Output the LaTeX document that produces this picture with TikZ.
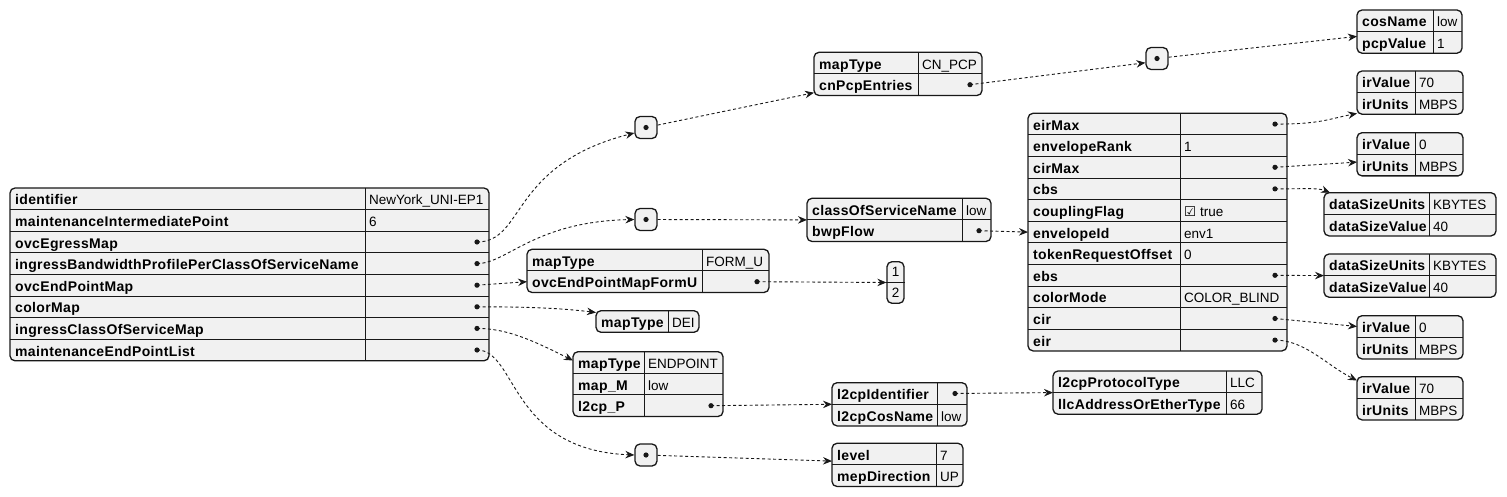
\documentclass[tikz,border=0pt]{standalone}
\usepackage{fontspec}
\setmainfont{Liberation Sans}
\newfontfamily\keyfont[LetterSpace=2.5]{Liberation Sans}
\newfontfamily\checkfont{DejaVu Sans}
\usetikzlibrary{arrows.meta}

\definecolor{boxfill}{HTML}{F1F1F1}
\definecolor{boxline}{HTML}{181818}
\def\rowh{21.6}
\def\starval{*}

% one json object: name, left, top, value column, right, key/value rows
\newcommand{\jsontable}[6]{%
  \foreach [count=\i] \k/\v in {#6} {\xdef\nrows{\i}}
  \draw[tablebox] (#2,#3) rectangle (#5,{#3+\nrows*\rowh});
  \draw[tablegrid] (#4,#3) -- (#4,{#3+\nrows*\rowh});
  \foreach [count=\i] \k/\v in {#6} {
    \pgfmathsetmacro\ymid{#3+(\i-0.5)*\rowh}
    \ifnum\i>1 \draw[tablegrid] (#2,{#3+(\i-1)*\rowh}) -- (#5,{#3+(\i-1)*\rowh}); \fi
    \coordinate (#1-\i) at (#2,\ymid);
    \coordinate (#1-\i-dot) at ({#5-12},\ymid);
    \node[keytext] at ({#2+5},{\ymid+6}) {\k};
    \ifx\v\starval \fill[boxline] (#1-\i-dot) circle (2.6);
    \else \node[valtext] at ({#4+4},{\ymid+6}) {\v}; \fi
  }
  \coordinate (#1-nw) at (#2,#3);
}

\begin{document}
\begin{tikzpicture}[x=1pt, y=-1pt,
  tablebox/.style={draw=boxline, fill=boxfill, line width=1.3pt, rounded corners=5pt},
  tablegrid/.style={draw=boxline, line width=0.9pt},
  keytext/.style={anchor=base west, inner sep=0, font=\keyfont\bfseries\fontsize{14}{16}\selectfont},
  valtext/.style={anchor=base west, inner sep=0, font=\fontsize{13.5}{16}\selectfont},
  arraybox/.style={draw=boxline, fill=boxfill, line width=1.3pt, rounded corners=5pt,
    minimum size=22pt, inner sep=0},
  link/.style={draw=boxline, line width=0.9pt, dash pattern=on 3pt off 2.5pt,
    -{Stealth[length=9pt, width=7.5pt, inset=3pt]}}]
  \useasboundingbox (0,0) rectangle (1507,497);

  % root object
  \jsontable{main}{10}{188}{365}{489}{identifier/NewYork\_UNI-EP1,
    maintenanceIntermediatePoint/6, ovcEgressMap/*,
    ingressBandwidthProfilePerClassOfServiceName/*, ovcEndPointMap/*,
    colorMap/*, ingressClassOfServiceMap/*, maintenanceEndPointList/*}

  % arrays
  \node[arraybox] (egressarr) at (646,127.5) {};
  \node[arraybox] (bwparr) at (646,219.5) {};
  \node[arraybox] (meparr) at (646,455) {};
  \node[arraybox] (pcparr) at (1157,58.5) {};
  \foreach \a in {egressarr, bwparr, meparr, pcparr}
    \fill[boxline] (\a) circle (2.6);
  \node[arraybox, minimum width=17pt, minimum height=41.6pt] (formuarr) at (895.5,282.5) {};
  \draw[tablegrid] (formuarr.west) -- (formuarr.east);
  \node[valtext, anchor=center] at ([yshift=10.4pt]formuarr) {1};
  \node[valtext, anchor=center] at ([yshift=-10.4pt]formuarr) {2};

  % objects
  \jsontable{egress}{814}{52.3}{918}{982}{mapType/CN\_PCP, cnPcpEntries/*}
  \jsontable{bwp}{807}{198.3}{962}{991}{classOfServiceName/low, bwpFlow/*}
  \jsontable{formu}{527}{249.3}{702}{769}{mapType/FORM\_U, ovcEndPointMapFormU/*}
  \jsontable{color}{596}{310.7}{668}{699}{mapType/DEI}
  \jsontable{cosmap}{573}{351.7}{644}{723}{mapType/ENDPOINT, map\_M/low, l2cp\_P/*}
  \jsontable{l2cp}{832}{382.7}{937}{967}{l2cpIdentifier/*, l2cpCosName/low}
  \jsontable{mep}{832}{443.3}{936}{963}{level/7, mepDirection/UP}
  \jsontable{pcp}{1357}{10}{1433}{1462}{cosName/low, pcpValue/1}
  \jsontable{envelope}{1028}{113.3}{1180}{1287}{eirMax/*, envelopeRank/1, cirMax/*,
    cbs/*, couplingFlag/{\checkfont ☑}~true, envelopeId/env1, tokenRequestOffset/0,
    ebs/*, colorMode/COLOR\_BLIND, cir/*, eir/*}
  \jsontable{eirmax}{1357}{71}{1415}{1463}{irValue/70, irUnits/MBPS}
  \jsontable{cirmax}{1357}{132.7}{1415}{1463}{irValue/0, irUnits/MBPS}
  \jsontable{cbs}{1324}{192.7}{1429}{1496}{dataSizeUnits/KBYTES, dataSizeValue/40}
  \jsontable{ebs}{1324}{254}{1429}{1496}{dataSizeUnits/KBYTES, dataSizeValue/40}
  \jsontable{cir}{1357}{315.7}{1415}{1463}{irValue/0, irUnits/MBPS}
  \jsontable{eir}{1357}{376.7}{1415}{1463}{irValue/70, irUnits/MBPS}
  \jsontable{proto}{1053}{371}{1226}{1262}{l2cpProtocolType/LLC, llcAddressOrEtherType/66}

  % links from the root
  \draw[link] (main-3-dot) .. controls +(48,0) and +(-125,32) .. (egressarr.205);
  \draw[link] (main-4-dot) .. controls +(30,0) and +(-100,2) .. (bwparr.west);
  \draw[link] (main-5-dot) -- (formu-2);
  \draw[link] (main-6-dot) .. controls +(40,0) and +(-40,-5) .. ([yshift=9pt]color-1);
  \draw[link] (main-7-dot) .. controls +(30,0) and +(-40,-20) .. ([yshift=2pt]cosmap-1);
  \draw[link] (main-8-dot) .. controls +(40,0) and +(-125,-5) .. (meparr.west);

  % links further on
  \draw[link] (egressarr) -- ([yshift=-8pt]egress-2);
  \draw[link] (bwparr) -- ([yshift=-10.8pt]bwp-1);
  \draw[link] (formu-2-dot) -- (formuarr.west);
  \draw[link] (cosmap-3-dot) -- ([yshift=-10.8pt]l2cp-1);
  \draw[link] (meparr) -- ([yshift=-7pt]mep-1);
  \draw[link] (egress-2-dot) -- (pcparr.200);
  \draw[link] (pcparr) -- ([yshift=6pt]pcp-2);
  \draw[link] (bwp-2-dot) -- (envelope-6);
  \draw[link] (l2cp-1-dot) -- ([yshift=-10.8pt]proto-1);
  \draw[link] (envelope-1-dot) .. controls +(45,0) and +(-30,6) .. ([yshift=-10pt]eirmax-2);
  \draw[link] (envelope-3-dot) -- ([yshift=3pt]cirmax-2);
  \draw[link] (envelope-4-dot) .. controls +(30,0) and +(-12,-5) .. ([xshift=6pt]cbs-nw);
  \draw[link] (envelope-8-dot) -- ([yshift=-10.8pt]ebs-1);
  \draw[link] (envelope-10-dot) -- (cir-1);
  \draw[link] (envelope-11-dot) .. controls +(30,0) and +(-30,-15) .. ([yshift=7pt]eir-1);
\end{tikzpicture}
\end{document}
